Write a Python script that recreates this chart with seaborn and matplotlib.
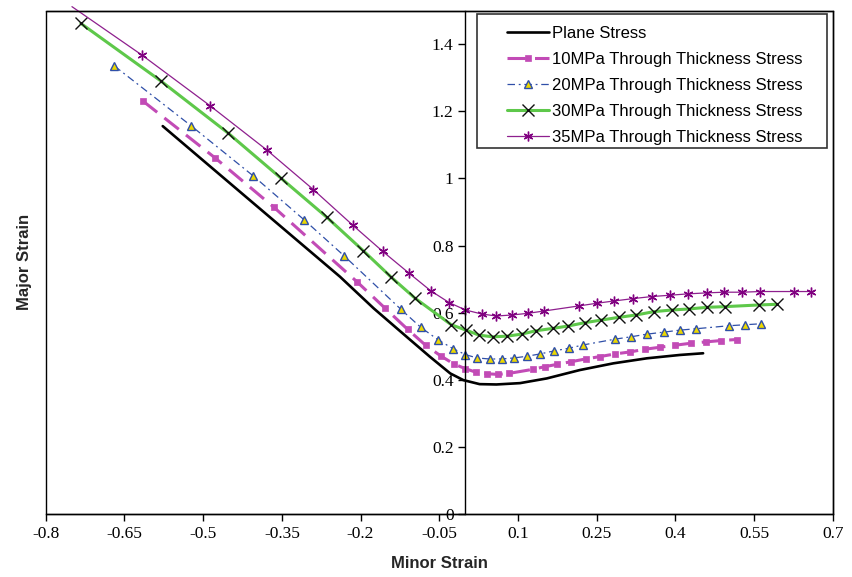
import matplotlib

matplotlib.use("agg")
import matplotlib.pyplot as plt
import seaborn as sns
from matplotlib.patches import Rectangle

# data
plane_x = [-0.577, -0.410, -0.239, -0.175, -0.112, -0.068, -0.029, -0.004, 0.027,
           0.059, 0.104, 0.155, 0.218, 0.282, 0.346, 0.409, 0.453]
plane_y = [1.156, 0.934, 0.707, 0.613, 0.528, 0.469, 0.419, 0.399, 0.387,
           0.386, 0.390, 0.404, 0.429, 0.449, 0.464, 0.474, 0.479]

mpa10_x = [-0.615, -0.477, -0.365, -0.206, -0.153, -0.110, -0.076, -0.047, -0.022,
           0.000, 0.021, 0.041, 0.062, 0.083, 0.128, 0.151, 0.175, 0.202, 0.229,
           0.256, 0.285, 0.314, 0.342, 0.371, 0.400, 0.430, 0.459, 0.488, 0.517]
mpa10_y = [1.231, 1.061, 0.914, 0.691, 0.613, 0.550, 0.503, 0.471, 0.447,
           0.433, 0.422, 0.418, 0.416, 0.419, 0.431, 0.439, 0.446, 0.454, 0.462,
           0.469, 0.477, 0.483, 0.491, 0.497, 0.503, 0.509, 0.513, 0.517, 0.520]

mpa20_x = [-0.669, -0.523, -0.404, -0.307, -0.231, -0.123, -0.085, -0.052, -0.024,
           0.000, 0.022, 0.046, 0.069, 0.092, 0.117, 0.142, 0.169, 0.197, 0.225,
           0.285, 0.315, 0.346, 0.378, 0.409, 0.439, 0.502, 0.533, 0.564]
mpa20_y = [1.335, 1.157, 1.007, 0.876, 0.769, 0.610, 0.556, 0.519, 0.493,
           0.475, 0.465, 0.462, 0.462, 0.465, 0.470, 0.477, 0.486, 0.494, 0.504,
           0.521, 0.528, 0.536, 0.542, 0.548, 0.552, 0.561, 0.564, 0.567]

mpa30_x = [-0.733, -0.581, -0.453, -0.351, -0.264, -0.195, -0.141, -0.096, -0.027,
           0.001, 0.026, 0.052, 0.079, 0.107, 0.134, 0.166, 0.195, 0.227, 0.259,
           0.292, 0.325, 0.359, 0.394, 0.426, 0.461, 0.495, 0.560, 0.594]
mpa30_y = [1.462, 1.291, 1.136, 1.000, 0.884, 0.785, 0.705, 0.643, 0.564,
           0.548, 0.533, 0.528, 0.530, 0.536, 0.546, 0.553, 0.560, 0.570, 0.578,
           0.586, 0.593, 0.603, 0.608, 0.611, 0.616, 0.618, 0.623, 0.625]

mpa35_x = [-0.750, -0.616, -0.487, -0.378, -0.290, -0.215, -0.158, -0.107, -0.066,
           -0.031, 0.000, 0.031, 0.059, 0.088, 0.119, 0.150, 0.216, 0.250, 0.284,
           0.320, 0.355, 0.390, 0.424, 0.460, 0.493, 0.528, 0.562, 0.626, 0.658]
mpa35_y = [1.512, 1.367, 1.217, 1.084, 0.967, 0.861, 0.783, 0.717, 0.665,
           0.630, 0.608, 0.596, 0.590, 0.593, 0.598, 0.605, 0.620, 0.628, 0.635,
           0.642, 0.648, 0.652, 0.656, 0.659, 0.661, 0.661, 0.663, 0.663, 0.663]

x_ticks = [-0.8, -0.65, -0.5, -0.35, -0.2, -0.05, 0.1, 0.25, 0.4, 0.55, 0.7]
x_tick_labels = ["-0.8", "-0.65", "-0.5", "-0.35", "-0.2", "-0.05", "0.1", "0.25", "0.4", "0.55", "0.7"]
y_ticks = [0, 0.2, 0.4, 0.6, 0.8, 1.0, 1.2, 1.4]
y_tick_labels = ["0", "0.2", "0.4", "0.6", "0.8", "1", "1.2", "1.4"]

# style
sns.set_theme(style="ticks", rc={
    "axes.edgecolor": "black",
    "axes.linewidth": 1.0,
    "xtick.color": "black",
    "ytick.color": "black",
    "xtick.major.size": 5,
    "ytick.major.size": 5,
    "xtick.major.width": 1.0,
    "ytick.major.width": 1.0,
})
plt.rcParams["font.family"] = ["Liberation Sans", "DejaVu Sans"]
tick_font = ["Liberation Serif", "DejaVu Serif"]
label_font = ["Liberation Sans Narrow", "Liberation Sans", "DejaVu Sans"]

fig = plt.figure(figsize=(8.53, 5.77), dpi=100)
ax = fig.add_axes([0.0536, 0.1092, 0.9226, 0.8723])

# series
sns.lineplot(x=plane_x, y=plane_y, ax=ax, estimator=None, sort=False,
             color="black", lw=1.9, label="Plane Stress")
sns.lineplot(x=mpa10_x, y=mpa10_y, ax=ax, estimator=None, sort=False,
             color="#c24bb6", lw=2.2, linestyle=(0, (6, 3)),
             marker="s", markersize=5, mfc="#c24bb6", mec="#c24bb6", mew=0.5,
             label="10MPa Through Thickness Stress")
sns.lineplot(x=mpa20_x, y=mpa20_y, ax=ax, estimator=None, sort=False,
             color="#2f4fa8", lw=0.9, linestyle=(0, (6, 3, 1.5, 3)),
             marker="^", markersize=6, mfc="#ecd800", mec="#2f4fa8", mew=1.0,
             label="20MPa Through Thickness Stress")
sns.lineplot(x=mpa30_x, y=mpa30_y, ax=ax, estimator=None, sort=False,
             color="#5ec84a", lw=2.2,
             marker="x", markersize=8.5, mec="#111111", mew=1.0,
             label="30MPa Through Thickness Stress")
sns.lineplot(x=mpa35_x, y=mpa35_y, ax=ax, estimator=None, sort=False,
             color="#8e1f8e", lw=0.9, clip_on=False,
             marker=(6, 2, 0), markersize=7, mec="#800080", mew=1.0,
             label="35MPa Through Thickness Stress")

# legend with a separate box
leg = ax.legend(loc="upper left", bbox_to_anchor=(0.586, 0.970), frameon=False,
                borderaxespad=0, borderpad=0, handlelength=2.5, handletextpad=0.2,
                labelspacing=0.66, fontsize=12)
for t in leg.get_texts():
    t.set_color("black")
ax.add_patch(Rectangle((0.548, 0.7266), 0.445, 0.2668, transform=ax.transAxes,
                       fill=False, edgecolor="#333333", lw=1.2, zorder=5))

# hide the marker of the first 35MPa point, which sits above the plot area
ax.lines[-1].set_markevery(list(range(1, len(mpa35_x))))

# axes
ax.set_xlim(-0.8, 0.7)
ax.set_ylim(0, 1.5)
ax.spines["left"].set_position(("data", 0))
ax.patch.set_edgecolor("black")
ax.patch.set_linewidth(1.0)
ax.set_xticks(x_ticks, x_tick_labels, fontfamily=tick_font, fontsize=12.5)
ax.set_yticks(y_ticks, y_tick_labels, fontfamily=tick_font, fontsize=12.5)
ax.minorticks_off()

ax.set_xlabel("Minor Strain", fontsize=12, fontweight="bold", family=label_font)
ax.set_ylabel("Major Strain", fontsize=12, fontweight="bold", family=label_font)
ax.xaxis.set_label_coords(0.5, -0.083)
ax.yaxis.set_label_coords(-0.017, 0.5)

plt.savefig("out.png", dpi=100)
